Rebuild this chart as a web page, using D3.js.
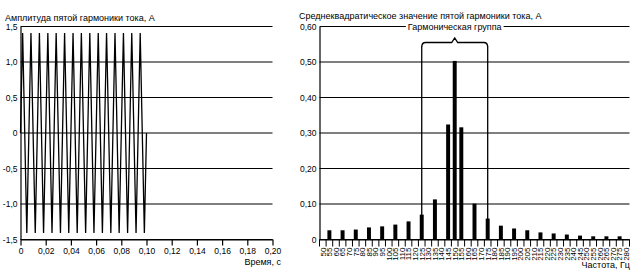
<!DOCTYPE html>
<html>
<head>
<meta charset="utf-8">
<script src="https://cdn.jsdelivr.net/npm/d3@7"></script>
<style>
  body { margin: 0; background: #fff; }
  svg { display: block; font-family: "Liberation Sans", Arial, sans-serif; }
  .grid line { stroke: #000; stroke-width: 1.2; }
  .axis path, .axis line { stroke: #000; stroke-width: 1.2; }
  .axis text { font-size: 8.5px; fill: #000; }
</style>
</head>
<body>
<svg width="635" height="273"></svg>
<script>
// left chart: 5th harmonic current amplitude vs time
const waveTime = [0, 0.0017, 0.0050, 0.0083, 0.0117, 0.0150, 0.0183, 0.0217, 0.0250, 0.0283,
    0.0317, 0.0350, 0.0383, 0.0417, 0.0450, 0.0483, 0.0517, 0.0550, 0.0583, 0.0617,
    0.0650, 0.0683, 0.0717, 0.0750, 0.0783, 0.0817, 0.0850, 0.0883, 0.0917, 0.0950,
    0.0983, 0.1000];
const waveAmp = [0, 1.41, -1.41, 1.41, -1.41, 1.41, -1.41, 1.41, -1.41, 1.41,
    -1.41, 1.41, -1.41, 1.41, -1.41, 1.41, -1.41, 1.41, -1.41, 1.41,
    -1.41, 1.41, -1.41, 1.41, -1.41, 1.41, -1.41, 1.41, -1.41, 1.41,
    -1.41, 0];
const leftYTicks = [-1.5, -1.0, -0.5, 0, 0.5, 1.0, 1.5];
const leftXTicks = [0, 0.02, 0.04, 0.06, 0.08, 0.10, 0.12, 0.14, 0.16, 0.18, 0.20];

// right chart: rms spectrum
const freqCategories = ["50", "55", "60", "65", "70", "75", "80", "85", "90", "95", "100", "105",
    "110", "115", "120", "125", "130", "135", "140", "145", "150", "155", "160", "165", "170",
    "175", "180", "185", "190", "195", "200", "205", "210", "215", "220", "225", "230", "235",
    "240", "245", "250", "255", "260", "265", "270", "275", "280"];
const barFreq = ["55", "65", "75", "85", "95", "105", "115", "125", "135", "145", "150", "155",
    "165", "175", "185", "195", "205", "215", "225", "235", "245", "255", "265", "275"];
const barValue = [0.026, 0.026, 0.028, 0.034, 0.037, 0.042, 0.051, 0.070, 0.113, 0.324, 0.503, 0.316,
    0.101, 0.059, 0.039, 0.031, 0.026, 0.020, 0.017, 0.014, 0.011, 0.009, 0.009, 0.009];
const rightYTicks = [0, 0.1, 0.2, 0.3, 0.4, 0.5, 0.6];
const groupBounds = ["125", "175"];
const groupCenter = "150";

const locale = d3.formatLocale({ decimal: ",", thousands: " ", grouping: [3], currency: ["", ""], minus: "-" });
const fmt = spec => d => (d === 0 ? "0" : locale.format(spec)(d));

const svg = d3.select("svg");

// ---------- left chart ----------
const lx = d3.scaleLinear().domain([0, 0.2]).range([20.5, 272.5]);
const ly = d3.scaleLinear().domain([-1.5, 1.5]).range([239.5, 26.5]);

svg.append("g").attr("class", "grid")
    .selectAll("line").data(leftYTicks).join("line")
    .attr("x1", lx(0)).attr("x2", lx(0.2))
    .attr("y1", d => ly(d)).attr("y2", d => ly(d));

svg.append("g").attr("class", "axis")
    .attr("transform", `translate(${lx(0)},0)`)
    .call(d3.axisLeft(ly).tickValues(leftYTicks).tickSize(0).tickPadding(3).tickFormat(fmt(".1f")));

svg.append("g").attr("class", "axis")
    .attr("transform", `translate(0,${ly(-1.5)})`)
    .call(d3.axisBottom(lx).tickValues(leftXTicks).tickSize(6).tickPadding(2).tickSizeOuter(0).tickFormat(fmt(".2f")));

svg.append("path")
    .datum(waveTime.map((t, i) => [t, waveAmp[i]]))
    .attr("fill", "none").attr("stroke", "#000").attr("stroke-width", 1.3)
    .attr("d", d3.line().x(d => lx(d[0])).y(d => ly(d[1])));

svg.append("text").attr("x", 5).attr("y", 20.5)
    .attr("font-size", 9).text("Амплитуда пятой гармоники тока, А");
svg.append("text").attr("x", 281).attr("y", 265).attr("text-anchor", "end")
    .attr("font-size", 9).text("Время, с");

// ---------- right chart ----------
const rx = d3.scaleBand().domain(freqCategories).range([319.5, 629.5]);
const ry = d3.scaleLinear().domain([0, 0.6]).range([239.5, 26.5]);
const bw = rx.bandwidth();

svg.append("g").attr("class", "grid")
    .selectAll("line").data(rightYTicks).join("line")
    .attr("x1", rx.range()[0]).attr("x2", rx.range()[1])
    .attr("y1", d => ry(d)).attr("y2", d => ry(d));

svg.append("g").attr("class", "axis")
    .attr("transform", `translate(${rx.range()[0]},0)`)
    .call(d3.axisLeft(ry).tickValues(rightYTicks).tickSize(0).tickPadding(3).tickFormat(fmt(".2f")));

// category boxes under the axis
svg.append("g")
    .selectAll("line").data(freqCategories.concat([null])).join("line")
    .attr("x1", (d, i) => rx.range()[0] + i * bw).attr("x2", (d, i) => rx.range()[0] + i * bw)
    .attr("y1", ry(0)).attr("y2", ry(0) + 7)
    .attr("stroke", "#000").attr("stroke-width", 1);

const xAx = svg.append("g").attr("class", "axis")
    .attr("transform", `translate(0,${ry(0)})`)
    .call(d3.axisBottom(rx).tickSize(0).tickSizeOuter(0));
xAx.selectAll(".tick text")
    .attr("transform", "rotate(-90)")
    .attr("x", -8).attr("y", 0).attr("dy", "0.35em")
    .attr("text-anchor", "end")
    .style("font-size", "8px");

// harmonic group bracket
const braceTop = 42.5;
const bx1 = rx(groupBounds[0]) + bw / 2;
const bx2 = rx(groupBounds[1]) + bw / 2;
const bxc = rx(groupCenter) + bw / 2;
svg.append("g").selectAll("line").data(groupBounds).join("line")
    .attr("x1", d => rx(d) + bw / 2).attr("x2", d => rx(d) + bw / 2)
    .attr("y1", ry(0)).attr("y2", braceTop + 4)
    .attr("stroke", "#000").attr("stroke-width", 1.3);
svg.append("path")
    .attr("fill", "none").attr("stroke", "#000").attr("stroke-width", 1.3)
    .attr("d", `M${bx1},${braceTop + 4.5} Q${bx1},${braceTop} ${bx1 + 4},${braceTop}
      L${bxc - 3},${braceTop} L${bxc},${braceTop - 4.5} L${bxc + 3},${braceTop}
      L${bx2 - 4},${braceTop} Q${bx2},${braceTop} ${bx2},${braceTop + 4.5}`);

svg.append("g").selectAll("rect").data(barFreq).join("rect")
    .attr("x", d => rx(d) + bw * 0.2)
    .attr("width", bw * 0.6)
    .attr("y", (d, i) => ry(barValue[i]))
    .attr("height", (d, i) => ry(0) - ry(barValue[i]))
    .attr("fill", "#000");

// group label sits on the top gridline with a white gap behind it
const labelG = svg.append("g");
const gapRect = labelG.append("rect").attr("fill", "#fff");
const gl = labelG.append("text").attr("x", bxc).attr("y", ry(0.6)).attr("dy", "0.35em")
    .attr("text-anchor", "middle").attr("font-size", 9).text("Гармоническая группа");
const bb = gl.node().getBBox();
gapRect.attr("x", bb.x - 2).attr("y", bb.y).attr("width", bb.width + 4).attr("height", bb.height);

svg.append("text").attr("x", 299).attr("y", 18.5)
    .attr("font-size", 9).text("Среднеквадратическое значение пятой гармоники тока, А");
svg.append("text").attr("x", 630).attr("y", 268).attr("text-anchor", "end")
    .attr("font-size", 9).text("Частота, Гц");
</script>
</body>
</html>
